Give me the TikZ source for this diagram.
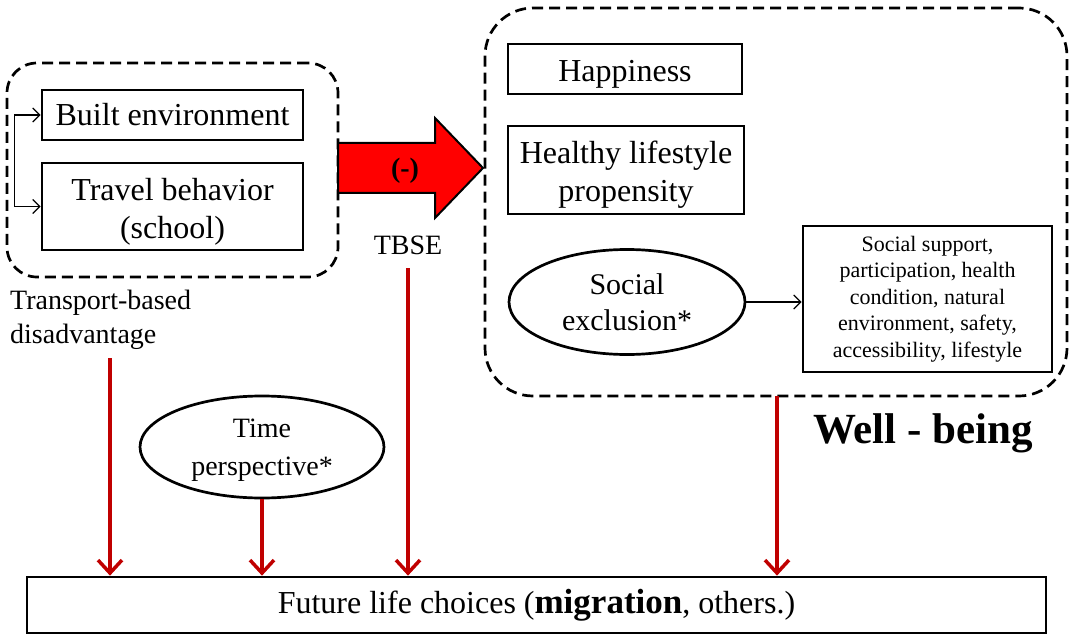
\documentclass[tikz,border=0pt]{standalone}
\usepackage{fontspec}
\setmainfont{Liberation Serif}
\usetikzlibrary{arrows.meta,shapes.geometric}
\definecolor{darkred}{RGB}{192,0,0}
\tikzset{
  box/.style={draw=black,line width=2.7pt,rectangle,inner sep=0pt,align=center},
  oval/.style={draw=black,line width=2.7pt,ellipse,inner sep=0pt,align=center},
  dashbox/.style={draw=black,line width=2.7pt,dash pattern=on 11pt off 6pt,rectangle,inner sep=0pt},
  thinarrow/.style={draw=black,line width=1.3pt,arrows={Straight Barb[length=7pt,width=14pt]-Straight Barb[length=7pt,width=14pt]}},
  thinarrowone/.style={draw=black,line width=1.3pt,-{Straight Barb[length=7pt,width=14pt]}},
  redarrow/.style={draw=darkred,line width=3.5pt,-{Straight Barb[length=13pt,width=24pt]}},
  bigtxt/.style={font=\fontsize{32}{38}\selectfont},
  midtxt/.style={font=\fontsize{28}{34}\selectfont},
}
\begin{document}
\begin{tikzpicture}[x=1pt,y=-1pt]
\useasboundingbox (0,0) rectangle (1075,636);
% left dashed group
\node[dashbox,rounded corners=30pt,minimum width=331pt,minimum height=214pt] (lgrp) at (172.5,170) {};
\node[box,bigtxt,minimum width=261pt,minimum height=50pt] (be) at (172.5,115) {Built environment};
\node[box,bigtxt,minimum width=261pt,minimum height=87pt,text height=70pt] (tb) at (172.5,206.5) {Travel behavior\\(school)};
\draw[thinarrow] (be.west) -- ++(-26,0) |- (tb.west);
\node[midtxt,align=left,anchor=north west,inner sep=0pt] (tbd) at (10,290) {Transport-based\\disadvantage};
% right dashed group
\node[dashbox,rounded corners=48pt,minimum width=582pt,minimum height=388pt] (wbgrp) at (776,202) {};
\node[box,bigtxt,minimum width=234pt,minimum height=50pt,text height=25pt,text depth=0pt] (hap) at (625,69) {Happiness};
\node[box,bigtxt,minimum width=236pt,minimum height=88pt,text height=69pt] (hl) at (626,170) {Healthy lifestyle\\propensity};
\node[oval,font=\fontsize{30}{36}\selectfont,minimum width=236pt,minimum height=105pt] (se) at (627,302) {Social\\exclusion*};
\node[box,font=\fontsize{22}{26.5}\selectfont,minimum width=249pt,minimum height=146pt] (ss) at (927.5,299) {Social support,\\participation, health\\condition, natural\\environment, safety,\\accessibility, lifestyle};
\draw[thinarrowone] (se.east) -- (se.east -| ss.west);
\node[font=\fontsize{43}{47}\selectfont\bfseries,inner sep=0pt] (wb) at (923,433) {Well - being};
% red block arrow
\draw[fill=red,draw=black,line width=2pt,line join=miter] (338,143) -- (435,143) -- (435,118) -- (483,168) -- (435,218) -- (435,193) -- (338,193) -- cycle;
\node[font=\fontsize{28}{33}\selectfont\bfseries,inner sep=0pt] (neg) at (405,171) {(-)};
\node[midtxt,inner sep=0pt] (tbse) at (408,245) {TBSE};
% time perspective
\node[oval,font=\fontsize{28}{38}\selectfont,minimum width=244pt,minimum height=102pt,text height=63pt] (tp) at (262,447) {Time\\perspective*};
% future box
\node[box,font=\fontsize{32}{38}\selectfont,minimum width=1019pt,minimum height=56pt] (fut) at (536.5,605) {Future life choices ({\fontsize{35}{38}\selectfont\bfseries migration}, others.)};
% red arrows
\coordinate (a1) at (110,358);
\coordinate (a3) at (408,268);
\coordinate (a4) at (777,396);
\draw[redarrow] (a1) -- (a1 |- fut.north);
\draw[redarrow] (tp.south) -- (tp.south |- fut.north);
\draw[redarrow] (a3) -- (a3 |- fut.north);
\draw[redarrow] (a4) -- (a4 |- fut.north);
\end{tikzpicture}
\end{document}
